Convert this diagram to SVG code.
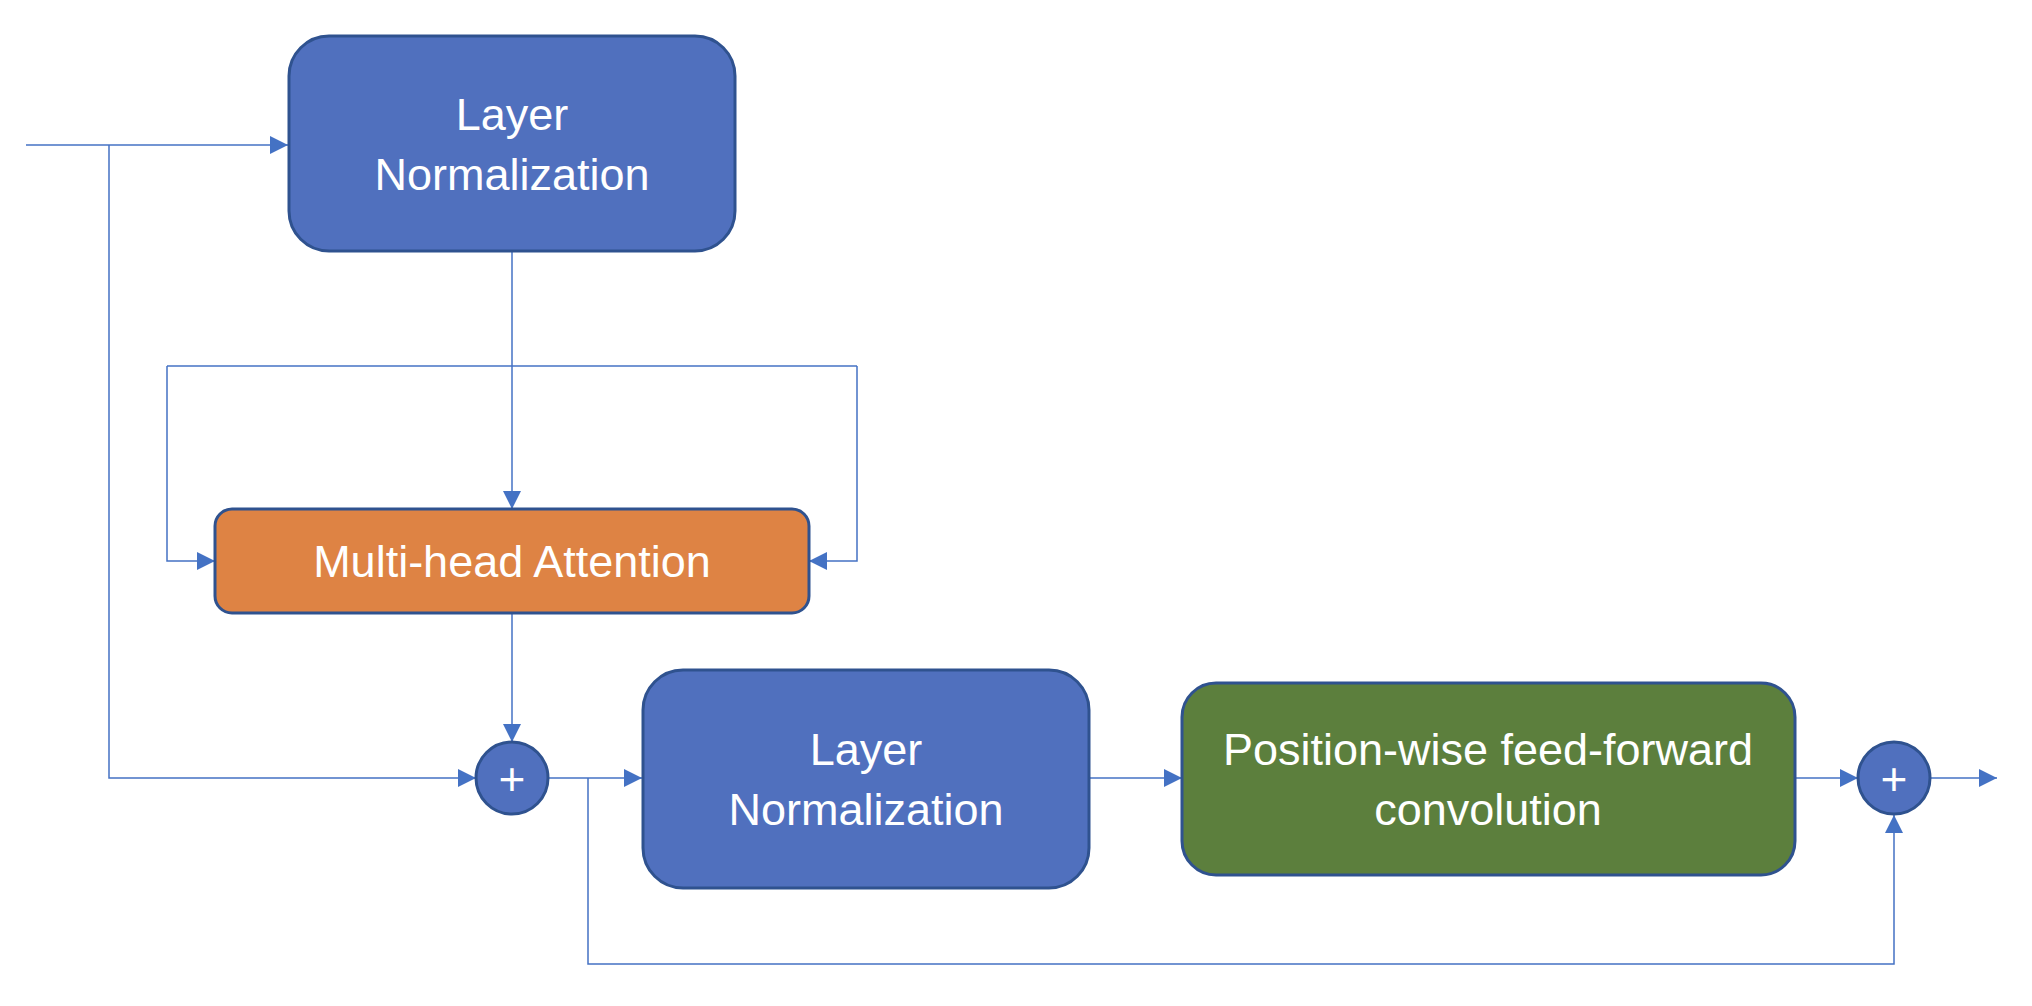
<svg xmlns="http://www.w3.org/2000/svg" width="2032" height="1006" viewBox="0 0 2032 1006">
<style>
.box{stroke:#2F528F;stroke-width:3}
.blue{fill:#5070BE}
.orange{fill:#DE8344}
.green{fill:#5C7F3D}
.lbl{font-family:"Liberation Sans",Arial,sans-serif;font-size:45px;fill:#FFFFFF;text-anchor:middle}
.plus{font-family:"Liberation Sans",Arial,sans-serif;font-size:46px;fill:#FFFFFF;text-anchor:middle}
.conn path{fill:none;stroke:#4472C4;stroke-width:1.5}
</style>
<defs>
<marker id="arr" markerUnits="userSpaceOnUse" markerWidth="18" markerHeight="18" viewBox="0 0 16 16" refX="16" refY="8" orient="auto">
<path d="M0,0 L16,8 L0,16 Z" fill="#4472C4"/>
</marker>
</defs>
<rect width="2032" height="1006" fill="#FFFFFF"/>
<g id="connectors" class="conn">
<path d="M26,145 H288" marker-end="url(#arr)"/>
<path d="M109,145 V778 H476" marker-end="url(#arr)"/>
<path d="M512,251 V509" marker-end="url(#arr)"/>
<path d="M167,366 H857"/>
<path d="M167,366 V561 H215" marker-end="url(#arr)"/>
<path d="M857,366 V561 H809" marker-end="url(#arr)"/>
<path d="M512,613 V742" marker-end="url(#arr)"/>
<path d="M548,778 H642" marker-end="url(#arr)"/>
<path d="M588,778 V964 H1894 V815" marker-end="url(#arr)"/>
<path d="M1089,778 H1182" marker-end="url(#arr)"/>
<path d="M1795,778 H1858" marker-end="url(#arr)"/>
<path d="M1931,778 H1997" marker-end="url(#arr)"/>
</g>
<g id="layernorm1">
<rect class="box blue" x="289" y="36" width="446" height="215" rx="40"/>
<text class="lbl" x="512" y="130">Layer</text>
<text class="lbl" x="512" y="190">Normalization</text>
</g>
<g id="mha">
<rect class="box orange" x="215" y="509" width="594" height="104" rx="17"/>
<text class="lbl" x="512" y="577">Multi-head Attention</text>
</g>
<g id="add1">
<circle class="box blue" cx="512" cy="778" r="36"/>
<text class="plus" x="512" y="795">+</text>
</g>
<g id="layernorm2">
<rect class="box blue" x="643" y="670" width="446" height="218" rx="40"/>
<text class="lbl" x="866" y="765">Layer</text>
<text class="lbl" x="866" y="825">Normalization</text>
</g>
<g id="ffn">
<rect class="box green" x="1182" y="683" width="613" height="192" rx="34"/>
<text class="lbl" x="1488" y="765">Position-wise feed-forward</text>
<text class="lbl" x="1488" y="825">convolution</text>
</g>
<g id="add2">
<circle class="box blue" cx="1894" cy="778" r="36"/>
<text class="plus" x="1894" y="795">+</text>
</g>
</svg>
